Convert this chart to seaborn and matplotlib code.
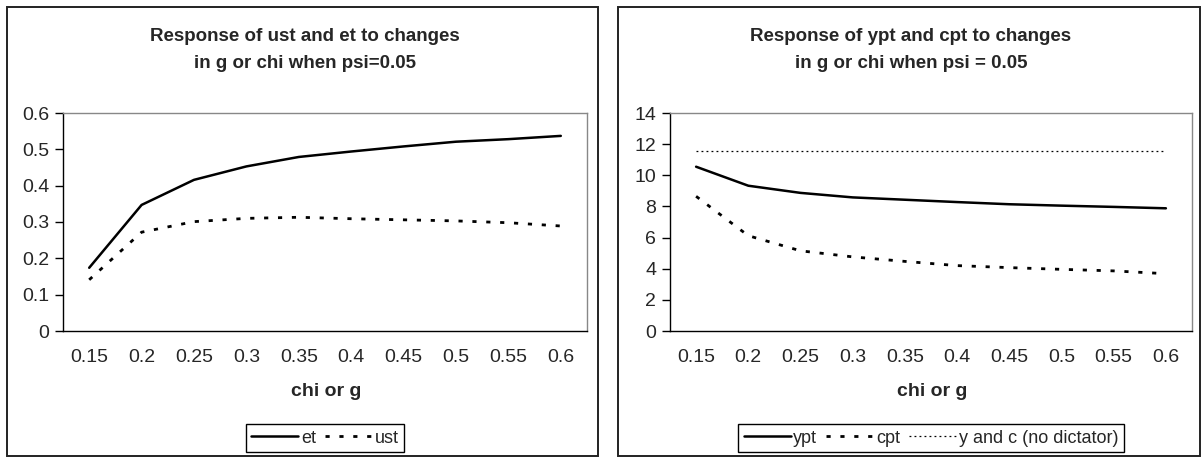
import matplotlib
matplotlib.use('Agg')
import matplotlib.pyplot as plt
from matplotlib.patches import Rectangle
import seaborn as sns
import numpy as np
import pandas as pd

# category axis (chi or g)
chi_labels = ['0.15', '0.2', '0.25', '0.3', '0.35', '0.4', '0.45', '0.5', '0.55', '0.6']

# left panel: psi = 0.05
et = [0.174, 0.347, 0.416, 0.453, 0.479, 0.494, 0.508, 0.521, 0.528, 0.537]
ust = [0.141, 0.272, 0.301, 0.310, 0.313, 0.309, 0.306, 0.303, 0.298, 0.289]

# right panel: psi = 0.05
ypt = [10.55, 9.33, 8.87, 8.58, 8.43, 8.28, 8.14, 8.05, 7.97, 7.88]
cpt = [8.65, 6.12, 5.15, 4.76, 4.47, 4.20, 4.07, 3.96, 3.86, 3.68]
y_no_dictator = [11.55] * 10

left_title = 'Response of ust and et to changes\nin g or chi when psi=0.05'
right_title = 'Response of ypt and cpt to changes\nin g or chi when psi = 0.05'

sns.set_style('white')
plt.rcParams['font.family'] = ['Liberation Sans', 'DejaVu Sans']

W, H = 1202, 457
fig = plt.figure(figsize=(W / 100, H / 100), dpi=100)


def px_axes(x0, y0, x1, y1):
    return fig.add_axes([x0 / W, 1 - y1 / H, (x1 - x0) / W, (y1 - y0) / H])


def frame(x0, y0, x1, y1):
    fig.add_artist(Rectangle((x0 / W, 1 - y1 / H), (x1 - x0) / W, (y1 - y0) / H,
                             transform=fig.transFigure, fill=False,
                             edgecolor='#222222', linewidth=1.4))


SOLID = dict(color='black', linewidth=1.8)
DASHED = dict(color='black', linewidth=2.0, dashes=(1.5, 3.5))
DOTTED = dict(color='black', linewidth=0.9, dashes=(1.5, 2.5))


def style_axes(ax, ymax, ystep, fmt):
    n = len(chi_labels)
    ax.set_xlim(-0.5, n - 0.5)
    ax.set_ylim(0, ymax)
    ax.set_xticks(np.arange(n))
    ax.set_xticklabels(chi_labels, fontsize=14)
    ax.set_xticks(np.arange(n + 1) - 0.5, minor=True)
    ax.tick_params(axis='x', which='major', length=0, pad=13)
    ax.tick_params(axis='x', which='minor', length=6, width=1, color='black', direction='out')
    yt = np.arange(0, ymax + ystep / 2, ystep)
    ax.set_yticks(yt)
    ax.set_yticklabels([fmt(v) for v in yt], fontsize=14)
    ax.tick_params(axis='y', length=6, width=1, color='black', direction='out', pad=4, left=True)
    for s in ['left', 'bottom']:
        ax.spines[s].set_color('black')
        ax.spines[s].set_linewidth(1)
    for s in ['top', 'right']:
        ax.spines[s].set_color('#888888')
        ax.spines[s].set_linewidth(1)
    ax.grid(False)
    ax.set_xlabel('')
    ax.set_ylabel('')


def fmt_left(v):
    v = round(v, 1)
    return '0' if v == 0 else f'{v:g}'


def fmt_right(v):
    return f'{int(round(v))}'


LEG = dict(loc='center', bbox_to_anchor=(0.5, -0.491), fontsize=13,
           frameon=True, fancybox=False, edgecolor='black', framealpha=1,
           handlelength=2.6, handletextpad=0.15, columnspacing=0.5,
           borderpad=0.3, borderaxespad=0)

# ---- left panel ----
frame(7, 7, 598, 456)
axl = px_axes(63, 113, 587, 331)
pos = np.arange(len(chi_labels))
dfl = pd.DataFrame({'pos': pos, 'et': et, 'ust': ust})
sns.lineplot(data=dfl, x='pos', y='et', ax=axl, label='et', **SOLID)
sns.lineplot(data=dfl, x='pos', y='ust', ax=axl, label='ust', **DASHED)
style_axes(axl, 0.6, 0.1, fmt_left)
fig.text(305 / W, 1 - 50 / H, left_title, ha='center', va='center',
         fontsize=13.5, fontweight='bold', linespacing=1.8)
fig.text(326 / W, 1 - 392 / H, 'chi or g', ha='center', va='center',
         fontsize=14, fontweight='bold')
axl.legend(ncol=2, **LEG)

# ---- right panel ----
frame(618, 7, 1200, 456)
axr = px_axes(670, 113, 1192, 331)
dfr = pd.DataFrame({'pos': pos, 'ypt': ypt, 'cpt': cpt, 'ync': y_no_dictator})
sns.lineplot(data=dfr, x='pos', y='ypt', ax=axr, label='ypt', **SOLID)
sns.lineplot(data=dfr, x='pos', y='cpt', ax=axr, label='cpt', **DASHED)
sns.lineplot(data=dfr, x='pos', y='ync', ax=axr, label='y and c (no dictator)', **DOTTED)
style_axes(axr, 14, 2, fmt_right)
fig.text(911 / W, 1 - 50 / H, right_title, ha='center', va='center',
         fontsize=13.5, fontweight='bold', linespacing=1.8)
fig.text(932 / W, 1 - 392 / H, 'chi or g', ha='center', va='center',
         fontsize=14, fontweight='bold')
axr.legend(ncol=3, **LEG)

fig.savefig('out.png', dpi=100)
